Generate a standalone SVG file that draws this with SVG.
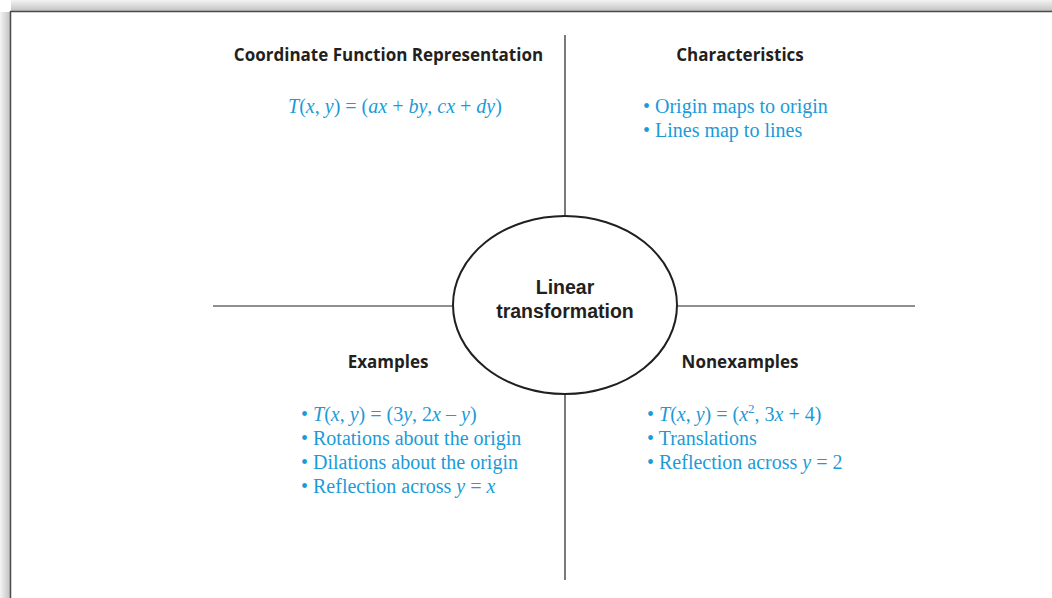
<svg xmlns="http://www.w3.org/2000/svg" width="1052" height="598" viewBox="0 0 1052 598">
<defs>
<linearGradient id="shL" x1="0" y1="0" x2="1" y2="0"><stop offset="0" stop-color="#f4f4f4"/><stop offset="1" stop-color="#bdbdbd"/></linearGradient>
<linearGradient id="shT" x1="0" y1="0" x2="0" y2="1"><stop offset="0" stop-color="#f4f4f4"/><stop offset="1" stop-color="#bdbdbd"/></linearGradient>
<style>
.h{font-family:"Open Sans","Liberation Sans",sans-serif;font-weight:bold;font-size:17px;fill:#231f20;text-anchor:middle}
.c{font-family:"Liberation Sans",Arial,sans-serif;font-weight:bold;font-size:19.5px;fill:#231f20;text-anchor:middle}
.b{font-family:"Liberation Serif","Times New Roman",serif;font-size:20px;fill:#1b9bd7}
.ln{stroke:#231f20;stroke-width:1.2;fill:none}
</style>
</defs>
<rect width="1052" height="598" fill="#ffffff"/>
<rect x="0" y="12" width="11" height="586" fill="url(#shL)"/>
<rect x="11" y="0" width="1041" height="12" fill="url(#shT)"/>
<line x1="10.5" y1="11" x2="10.5" y2="598" stroke="#4a4a4a" stroke-width="1.5"/>
<line x1="10" y1="11.5" x2="1052" y2="11.5" stroke="#4a4a4a" stroke-width="1.5"/>
<g id="connectors">
<line class="ln" x1="565" y1="35" x2="565" y2="216"/>
<line class="ln" x1="565" y1="394" x2="565" y2="580"/>
<line class="ln" x1="213" y1="306" x2="453" y2="306"/>
<line class="ln" x1="677" y1="306" x2="915" y2="306"/>
</g>
<g id="center">
<ellipse cx="565" cy="305" rx="112" ry="89" fill="#fff" stroke="#231f20" stroke-width="2"/>
<text class="c" x="565" y="294">Linear</text>
<text class="c" x="565" y="318">transformation</text>
</g>
<g id="coordinate">
<text class="h" x="388.5" y="61">Coordinate Function Representation</text>
<text class="b" x="395" y="113" text-anchor="middle"><tspan font-style="italic">T</tspan>(<tspan font-style="italic">x</tspan>, <tspan font-style="italic">y</tspan>) = (<tspan font-style="italic">ax</tspan> + <tspan font-style="italic">by</tspan>, <tspan font-style="italic">cx</tspan> + <tspan font-style="italic">dy</tspan>)</text>
</g>
<g id="characteristics">
<text class="h" x="740" y="61">Characteristics</text>
<text class="b" x="643" y="113">• Origin maps to origin</text>
<text class="b" x="643" y="137">• Lines map to lines</text>
</g>
<g id="examples">
<text class="h" x="388" y="368">Examples</text>
<text class="b" x="301" y="421">• <tspan font-style="italic">T</tspan>(<tspan font-style="italic">x</tspan>, <tspan font-style="italic">y</tspan>) = (3<tspan font-style="italic">y</tspan>, 2<tspan font-style="italic">x</tspan> – <tspan font-style="italic">y</tspan>)</text>
<text class="b" x="301" y="445">• Rotations about the origin</text>
<text class="b" x="301" y="469">• Dilations about the origin</text>
<text class="b" x="301" y="493">• Reflection across <tspan font-style="italic">y</tspan> = <tspan font-style="italic">x</tspan></text>
</g>
<g id="nonexamples">
<text class="h" x="740" y="368">Nonexamples</text>
<text class="b" x="647" y="421">• <tspan font-style="italic">T</tspan>(<tspan font-style="italic">x</tspan>, <tspan font-style="italic">y</tspan>) = (<tspan font-style="italic">x</tspan><tspan font-size="13" dy="-8">2</tspan><tspan dy="8">, 3</tspan><tspan font-style="italic">x</tspan> + 4)</text>
<text class="b" x="647" y="445">• Translations</text>
<text class="b" x="647" y="469">• Reflection across <tspan font-style="italic">y</tspan> = 2</text>
</g>
</svg>
